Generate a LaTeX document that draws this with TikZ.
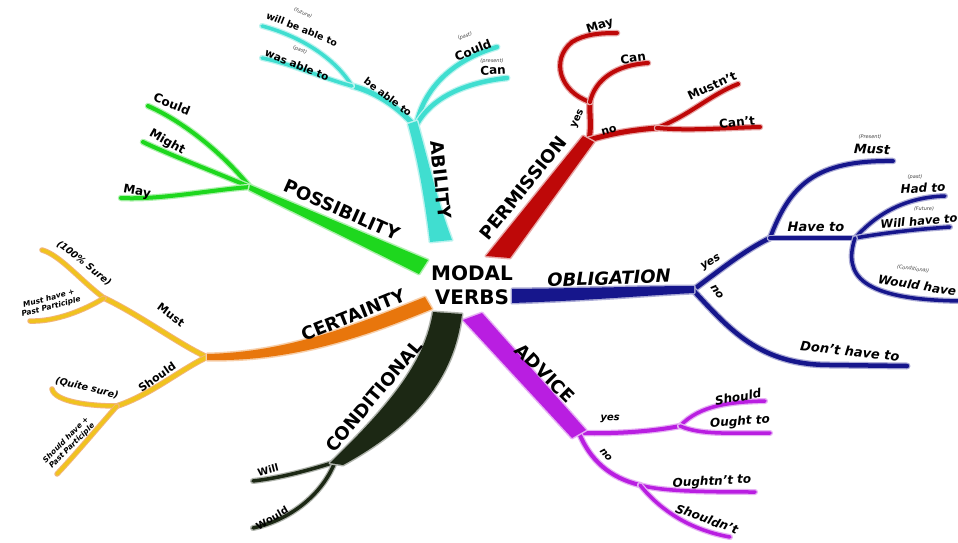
\documentclass[tikz,border=0pt]{standalone}
\usepackage{fontspec}
\setmainfont{DejaVu Sans}
\definecolor{cyanc}{RGB}{64,222,208}
\definecolor{redc}{RGB}{190,8,8}
\definecolor{navyc}{RGB}{22,22,140}
\definecolor{purc}{RGB}{185,30,225}
\definecolor{darkc}{RGB}{28,40,20}
\definecolor{orac}{RGB}{232,118,12}
\definecolor{yelc}{RGB}{240,195,30}
\definecolor{grec}{RGB}{30,215,30}
\begin{document}
\begin{tikzpicture}[x=1pt,y=-1pt,
  br/.style 2 args={draw=#1,line width=#2,line cap=round,preaction={draw=#1!35,line width=#2+2.5pt,line cap=round}},
  bry/.style={draw=yelc,line width=#1,line cap=round,preaction={draw=orac!55,line width=#1+2pt,line cap=round}},
  tr/.style={fill=#1,preaction={draw=#1!35,line width=3pt,line join=round}},
  ttl/.style={font=\fontsize{18}{18}\selectfont\bfseries,inner sep=0pt},
  ittl/.style={font=\fontsize{18}{18}\selectfont\bfseries\itshape,inner sep=0pt},
  lab/.style={font=\fontsize{#1}{#1}\selectfont\bfseries,inner sep=0pt},
  ilab/.style={font=\fontsize{#1}{#1}\selectfont\bfseries\itshape,inner sep=0pt},
  note/.style={font=\fontsize{5}{5}\selectfont\itshape,inner sep=0pt,text=black!75},
  twol/.style={font=\fontsize{7.5}{8.5}\selectfont\bfseries\itshape,inner sep=0pt,align=center},
]
\useasboundingbox (0,0) rectangle (958,543);
\fill[white] (0,0) rectangle (958,543);

% ---------- ABILITY branches
\coordinate (abTop) at (412,123);
\coordinate (abJ) at (416,126);
\coordinate (abMid) at (352,86);
\coordinate (abWill) at (262,26);
\coordinate (abWas) at (262,58);
\coordinate (abCould) at (497,47);
\coordinate (abCan) at (507,78);
\draw[br={cyanc}{5pt}] (abTop) .. controls (395,105) and (375,92) .. (abMid);
\draw[br={cyanc}{3.5pt}] (abMid) .. controls (335,58) and (300,36) .. (abWill);
\draw[br={cyanc}{3.5pt}] (abMid) .. controls (322,78) and (292,64) .. (abWas);
\draw[br={cyanc}{4.5pt}] (abJ) .. controls (425,82) and (460,58) .. (abCould);
\draw[br={cyanc}{4.5pt}] (abJ) .. controls (432,95) and (470,82) .. (abCan);

% ---------- PERMISSION branches
\coordinate (peTop) at (589,140);
\coordinate (peYes) at (590,102);
\coordinate (peMay) at (617,33);
\coordinate (peCan) at (648,63);
\coordinate (peNo) at (657,128);
\coordinate (peMust) at (738,84);
\coordinate (peCant) at (760,127);
\draw[br={redc}{5pt}] (peTop) .. controls (592,125) and (589,112) .. (peYes);
\draw[br={redc}{4pt}] (peYes) .. controls (560,92) and (550,60) .. (572,42) .. controls (585,34) and (600,33) .. (peMay);
\draw[br={redc}{4pt}] (peYes) .. controls (595,80) and (615,65) .. (peCan);
\draw[br={redc}{5pt}] (peTop) .. controls (610,134) and (630,130) .. (peNo);
\draw[br={redc}{4pt}] (peNo) .. controls (690,115) and (710,95) .. (peMust);
\draw[br={redc}{4pt}] (peNo) .. controls (690,131) and (720,128) .. (peCant);

% ---------- OBLIGATION branches
\coordinate (obEnd) at (693,290);
\coordinate (obJ) at (770,238);
\coordinate (obMust) at (893,161);
\coordinate (obJ2) at (855,238);
\coordinate (obHad) at (945,196);
\coordinate (obWill) at (950,227);
\coordinate (obWould) at (962,301);
\coordinate (obDont) at (907,366);
\draw[br={navyc}{4.5pt}] (obEnd) .. controls (720,270) and (745,250) .. (obJ);
\draw[br={navyc}{4pt}] (obJ) .. controls (790,185) and (815,160) .. (obMust);
\draw[br={navyc}{4pt}] (obJ) -- (obJ2);
\draw[br={navyc}{3.5pt}] (obJ2) .. controls (880,210) and (910,197) .. (obHad);
\draw[br={navyc}{3.5pt}] (obJ2) .. controls (890,232) and (920,229) .. (obWill);
\draw[br={navyc}{3.5pt}] (obJ2) .. controls (843,275) and (860,300) .. (obWould);
\draw[br={navyc}{4.5pt}] (obEnd) .. controls (730,330) and (760,365) .. (830,365) -- (obDont);

% ---------- ADVICE branches
\coordinate (adEnd) at (579,433);
\coordinate (adJ) at (680,426);
\coordinate (adShould) at (765,401);
\coordinate (adOught) at (770,433);
\coordinate (adJ2) at (640,485);
\coordinate (adOughtnt) at (755,492);
\coordinate (adShouldnt) at (730,537);
\draw[br={purc}{4pt}] (adEnd) .. controls (610,434) and (650,432) .. (adJ);
\draw[br={purc}{3.5pt}] (adJ) .. controls (700,405) and (730,402) .. (adShould);
\draw[br={purc}{3.5pt}] (adJ) .. controls (700,435) and (730,433) .. (adOught);
\draw[br={purc}{4pt}] (adEnd) .. controls (590,460) and (610,478) .. (adJ2);
\draw[br={purc}{3.5pt}] (adJ2) .. controls (660,491) and (700,492) .. (adOughtnt);
\draw[br={purc}{3.5pt}] (adJ2) .. controls (660,510) and (690,530) .. (adShouldnt);

% ---------- CONDITIONAL branches
\coordinate (coEnd) at (335,462);
\coordinate (coWill) at (253,481);
\coordinate (coWould) at (253,528);
\draw[br={darkc}{3.5pt}] (coEnd) .. controls (310,470) and (280,478) .. (coWill);
\draw[br={darkc}{3.5pt}] (coEnd) .. controls (322,495) and (290,520) .. (coWould);

% ---------- CERTAINTY branches
\coordinate (ceEnd) at (207,357);
\coordinate (ceMust) at (104,298);
\coordinate (ceSure) at (42,250);
\coordinate (cePPa) at (30,321);
\coordinate (ceShould) at (117,406);
\coordinate (ceQuite) at (52,389);
\coordinate (cePPb) at (57,474);
\draw[bry=4pt] (ceEnd) .. controls (180,345) and (140,315) .. (ceMust);
\draw[bry=3.5pt] (ceMust) .. controls (80,280) and (60,255) .. (ceSure);
\draw[bry=3.5pt] (ceMust) .. controls (85,310) and (55,322) .. (cePPa);
\draw[bry=4pt] (ceEnd) .. controls (180,370) and (150,395) .. (ceShould);
\draw[bry=3.5pt] (ceShould) .. controls (90,406) and (55,402) .. (ceQuite);
\draw[bry=3.5pt] (ceShould) .. controls (100,425) and (75,455) .. (cePPb);

% ---------- POSSIBILITY branches
\coordinate (poEnd) at (250,187);
\coordinate (poCould) at (148,106);
\coordinate (poMight) at (143,142);
\coordinate (poMay) at (121,198);
\draw[br={grec}{4pt}] (poEnd) .. controls (220,150) and (180,120) .. (poCould);
\draw[br={grec}{4pt}] (poEnd) .. controls (210,170) and (170,155) .. (poMight);
\draw[br={grec}{4pt}] (poEnd) .. controls (210,190) and (160,200) .. (poMay);

% ---------- trunks
\fill[tr=cyanc] (430,242) .. controls (425,200) and (418,160) .. (408,124) -- (417,121) .. controls (428,160) and (437,200) .. (452,240) -- cycle;
\fill[tr=redc] (486,256) -- (583,136) -- (594,142) -- (510,258) -- cycle;
\fill[tr=navyc] (512,289) .. controls (600,288) and (650,286) .. (694,286) -- (694,293) .. controls (650,295) and (600,300) .. (512,303) -- cycle;
\fill[tr=purc] (463,320) -- (482,313) -- (586,430) -- (572,438) -- cycle;
\fill[tr=darkc] (433,312) .. controls (425,360) and (395,400) .. (330,463) -- (343,465) .. controls (425,420) and (455,370) .. (462,314) -- cycle;
\fill[tr=orac] (425,297) .. controls (355,325) and (290,352) .. (207,354) -- (207,360) .. controls (290,362) and (362,338) .. (432,309) -- cycle;
\fill[tr=grec] (428,260) -- (250,185) -- (249,190) -- (419,274) -- cycle;

% ---------- centre
\node[font=\fontsize{20}{24}\selectfont\bfseries,inner sep=0pt,align=center] (centre) at (472,285) {MODAL\\VERBS};

% ---------- ABILITY labels
\node[ttl,rotate=-84] (tAbility) at (441,180) {ABILITY};
\node[lab=10,rotate=-37] (abBe) at (388,97) {be able to};
\node[lab=9.5,rotate=-22] (abWillT) at (302,29) {will be able to};
\node[note,rotate=-22] (abFut) at (303,13) {(future)};
\node[lab=10.5,rotate=-22] (abWasT) at (297,65) {was able to};
\node[note,rotate=-22] (abPast) at (300,50) {(past)};
\node[lab=12,rotate=22] (abCouldT) at (473,50) {Could};
\node[note,rotate=20] (abPast2) at (465,36) {(past)};
\node[lab=12,rotate=3] (abCanT) at (493,70) {Can};
\node[note] (abPres) at (492,61) {(present)};

% ---------- PERMISSION labels
\node[ttl,rotate=51] (tPerm) at (523,188) {PERMISSION};
\node[lab=10,rotate=65] (peYesT) at (578,119) {yes};
\node[lab=12,rotate=18] (peMayT) at (600,26) {May};
\node[lab=12,rotate=8] (peCanT) at (633,58) {Can};
\node[lab=11,rotate=15] (peNoT) at (609,131) {no};
\node[lab=12,rotate=25] (peMustT) at (712,86) {Mustn't};
\node[lab=12,rotate=6] (peCantT) at (737,122) {Can't};

% ---------- OBLIGATION labels
\node[ittl,rotate=2] (tObl) at (609,278) {OBLIGATION};
\node[ilab=11,rotate=30] (obYesT) at (711,263) {yes};
\node[ilab=11,rotate=-55] (obNoT) at (717,292) {no};
\node[ilab=13] (obHaveT) at (816,227) {Have to};
\node[note] (obPres) at (870,137) {(Present)};
\node[ilab=13,rotate=-2] (obMustT) at (872,149) {Must};
\node[note] (obPast) at (915,177) {(past)};
\node[ilab=12,rotate=3] (obHadT) at (923,188) {Had to};
\node[note] (obFut) at (924,209) {(Future)};
\node[ilab=11.5,rotate=5] (obWillT) at (919,221) {Will have to};
\node[note,rotate=-8] (obCond) at (913,269) {(Conditional)};
\node[ilab=12,rotate=-9,anchor=west] (obWouldT) at (878,279) {Would have to};
\node[ilab=13,rotate=-6] (obDontT) at (850,351) {Don't have to};

% ---------- ADVICE labels
\node[ttl,rotate=-45] (tAdv) at (545,373) {ADVICE};
\node[ilab=10,rotate=-3] (adYesT) at (610,419) {yes};
\node[ilab=10,rotate=-50] (adNoT) at (606,455) {no};
\node[ilab=12,rotate=10] (adShouldT) at (738,397) {Should};
\node[ilab=12,rotate=4] (adOughtT) at (740,422) {Ought to};
\node[ilab=12,rotate=3] (adOughtntT) at (712,482) {Oughtn't to};
\node[ilab=12,rotate=-20] (adShouldntT) at (707,519) {Shouldn't};

% ---------- CONDITIONAL labels
\node[ttl,rotate=50] (tCond) at (374,396) {CONDITIONAL};
\node[lab=10,rotate=14] (coWillT) at (268,470) {Will};
\node[lab=10,rotate=30] (coWouldT) at (272,518) {Would};

% ---------- CERTAINTY labels
\node[ttl,rotate=22] (tCert) at (353,315) {CERTAINTY};
\node[lab=11,rotate=-37] (ceMustT) at (171,315) {Must};
\node[lab=11,rotate=35] (ceShouldT) at (157,377) {Should};
\node[ilab=9.5,rotate=-38] (ceSureT) at (84,263) {(100\% Sure)};
\node[twol,rotate=15] (cePPaT) at (50,303) {Must have +\\Past Participle};
\node[ilab=9.5,rotate=-14] (ceQuiteT) at (87,388) {(Quite sure)};
\node[twol,rotate=45] (cePPbT) at (69,443) {Should have +\\Past Participle};

% ---------- POSSIBILITY labels
\node[ttl,rotate=-24] (tPoss) at (342,210) {POSSIBILITY};
\node[lab=12,rotate=-22] (poCouldT) at (172,104) {Could};
\node[lab=12,rotate=-30] (poMightT) at (167,142) {Might};
\node[lab=12,rotate=-10] (poMayT) at (137,192) {May};
\end{tikzpicture}
\end{document}
